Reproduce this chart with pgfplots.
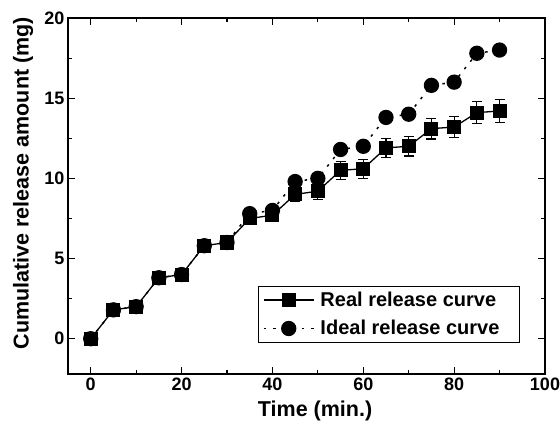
\documentclass[border=0pt]{standalone}
\usepackage{fontspec}
\setmainfont{Liberation Sans}
\usepackage{pgfplots}
\pgfplotsset{compat=1.18}
\begin{document}
\begin{tikzpicture}
\useasboundingbox (-68pt,-49pt) rectangle (492pt,374pt);
\begin{axis}[
  at={(0pt,0pt)}, anchor=south west,
  scale only axis, width=477pt, height=356pt,
  xmin=-5, xmax=100, ymin=-2.2, ymax=20,
  xtick={0,20,...,100}, ytick={0,5,...,20},
  minor x tick num=1, minor y tick num=1,
  tick align=inside,
  axis line style={line width=1.4pt},
  major tick length=7pt, minor tick length=4pt,
  every tick/.style={black, line width=1.1pt},
  /pgf/number format/assume math mode=true,
  tick label style={font=\bfseries\fontsize{18}{18}\selectfont},
  xlabel={Time (min.)}, ylabel={Cumulative release amount (mg)},
  label style={font=\bfseries\fontsize{21.5}{21.5}\selectfont},
  xlabel style={at={(axis description cs:0.518,-0.104)}, anchor=center},
  ylabel style={at={(axis description cs:-0.094,0.536)}, anchor=center, rotate=0},
  legend style={at={(0.9476,0.0871)}, anchor=south east, draw=black, line width=1pt,
    font=\bfseries\fontsize{20}{24}\selectfont, inner sep=4pt, row sep=8.5pt,
    /tikz/every odd column/.append style={column sep=4pt}},
  legend cell align=left,
  legend image code/.code={\draw[mark repeat=2, mark phase=2, #1] plot coordinates {(0pt,0pt) (25pt,0pt) (50pt,0pt)};},
]
\addplot[black, line width=1.3pt, mark=square*, mark size=6.4pt, mark options={solid},
  error bars/.cd, y dir=both, y explicit, error bar style={line width=1.2pt, solid}, error mark options={rotate=90, mark size=5pt, line width=1.2pt}]
  table[x=x, y=y, y error=e] {
x y e
0 0 0.15
5 1.8 0.2
10 2.0 0.2
15 3.8 0.25
20 4.0 0.25
25 5.8 0.3
30 6.0 0.3
35 7.5 0.4
40 7.7 0.4
45 9.0 0.45
50 9.2 0.5
55 10.5 0.55
60 10.6 0.6
65 11.9 0.6
70 12.0 0.6
75 13.1 0.65
80 13.2 0.65
85 14.1 0.7
90 14.2 0.7
};
\addlegendentry{Real release curve\hspace*{14pt}}
\addplot[black, line width=1.5pt, dash pattern=on 2.5pt off 7pt, mark=*, mark size=6.9pt, mark options={solid}]
  table[x=x, y=y] {
x y
0 0
5 1.8
10 2.0
15 3.8
20 4.0
25 5.8
30 6.0
35 7.8
40 8.0
45 9.8
50 10.0
55 11.8
60 12.0
65 13.8
70 14.0
75 15.8
80 16.0
85 17.8
90 18.0
};
\addlegendentry{Ideal release curve\hspace*{14pt}}
\end{axis}
\end{tikzpicture}
\end{document}
